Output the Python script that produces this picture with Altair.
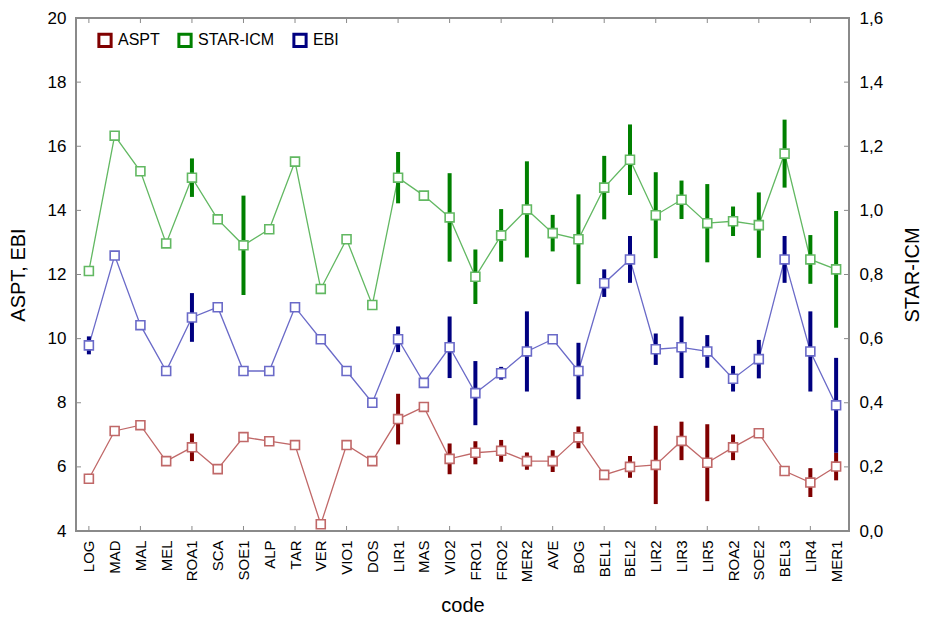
import altair as alt
import pandas as pd

codes = ["LOG", "MAD", "MAL", "MEL", "ROA1", "SCA", "SOE1", "ALP", "TAR", "VER",
         "VIO1", "DOS", "LIR1", "MAS", "VIO2", "FRO1", "FRO2", "MER2", "AVE", "BOG",
         "BEL1", "BEL2", "LIR2", "LIR3", "LIR5", "ROA2", "SOE2", "BEL3", "LIR4", "MER1"]

aspt = [5.63, 7.12, 7.30, 6.18, 6.61, 5.93, 6.93, 6.80, 6.68, 4.21,
        6.68, 6.18, 7.49, 7.87, 6.25, 6.44, 6.50, 6.18, 6.18, 6.92,
        5.75, 6.00, 6.06, 6.81, 6.13, 6.61, 7.05, 5.87, 5.51, 6.01]
aspt_err = [0.15, 0, 0, 0, 0.43, 0, 0, 0, 0, 0,
            0, 0, 0.79, 0, 0.48, 0.36, 0.34, 0.27, 0.34, 0.34,
            0, 0.34, 1.22, 0.60, 1.20, 0.40, 0, 0, 0.45, 0.43]

star = [0.811, 1.233, 1.122, 0.897, 1.102, 0.972, 0.891, 0.941, 1.152, 0.755,
        0.910, 0.705, 1.102, 1.046, 0.978, 0.793, 0.922, 1.003, 0.929, 0.910,
        1.071, 1.158, 0.985, 1.033, 0.960, 0.966, 0.954, 1.177, 0.847, 0.816]
star_err = [0, 0, 0, 0, 0.060, 0, 0.155, 0, 0, 0,
            0, 0, 0.080, 0, 0.138, 0.085, 0.082, 0.150, 0.057, 0.140,
            0.099, 0.110, 0.134, 0.060, 0.122, 0.046, 0.102, 0.106, 0.076, 0.182]

ebi = [9.79, 12.59, 10.42, 8.99, 10.66, 10.98, 8.99, 8.99, 10.98, 9.98,
       8.99, 8.00, 9.98, 8.62, 9.73, 8.30, 8.92, 9.60, 9.98, 8.99,
       11.73, 12.47, 9.67, 9.73, 9.60, 8.75, 9.36, 12.47, 9.60, 7.92]
ebi_err = [0.28, 0, 0, 0, 0.76, 0, 0, 0, 0, 0,
           0, 0, 0.40, 0, 0.96, 1.00, 0.20, 1.25, 0, 0.88,
           0.43, 0.73, 0.49, 0.96, 0.51, 0.40, 0.60, 0.73, 1.25, 1.48]

series_names = ["ASPT", "STAR-ICM", "EBI"]
left_ticks = [4, 6, 8, 10, 12, 14, 16, 18, 20]
right_ticks = [0.0, 0.2, 0.4, 0.6, 0.8, 1.0, 1.2, 1.4, 1.6]
x_tick_codes = codes[::2]

dark_colors = ["#800000", "#008000", "#000080"]
# line / marker colours, in the order ASPT, EBI, STAR-ICM
line_domain = ["ASPT", "EBI", "STAR-ICM"]
light_colors = ["#c06868", "#6a6ac8", "#62b862"]
frame_col = "#8a8a8a"

W, H = 773, 513


def long_df(name, vals, errs):
    return pd.DataFrame({"idx": range(len(codes)), "code": codes, "series": name,
                         "line": name, "value": vals, "err": errs})


df_left = pd.concat([long_df("ASPT", aspt, aspt_err), long_df("EBI", ebi, ebi_err)],
                    ignore_index=True)
df_right = long_df("STAR-ICM", star, star_err)

xscale = alt.Scale(domain=codes, type="point", padding=0.5)
xaxis = alt.Axis(title="code", labelAngle=270, labelFontSize=15, labelPadding=9,
                 ticks=False, domain=False, titleFontSize=20, titlePadding=14)
X = alt.X("code:N", scale=xscale, axis=xaxis, sort=codes)

yl_scale = alt.Scale(domain=[4, 20], nice=False, zero=False)
yl_axis = alt.Axis(title="ASPT, EBI", orient="left", values=left_ticks, ticks=False,
                   domain=False, labelFontSize=17, labelPadding=10, titleFontSize=20,
                   titlePadding=19)
yr_scale = alt.Scale(domain=[0, 1.6], nice=False, zero=False)
yr_axis = alt.Axis(title="STAR-ICM", orient="right", values=right_ticks, ticks=False,
                   domain=False, labelFontSize=17, labelPadding=10, titleFontSize=20,
                   titlePadding=40, titleAngle=270,
                   labelExpr="replace(format(datum.value, '.1f'), '.', ',')")

legend = alt.Legend(title=None, orient="none", legendX=21, legendY=14,
                    direction="horizontal", symbolType="square",
                    symbolSize=150, symbolStrokeWidth=3, symbolFillColor="white",
                    labelFontSize=16, columnPadding=12, labelOffset=5)
color_scale = alt.Scale(domain=series_names, range=dark_colors)
stroke_enc = alt.Stroke("line:N", scale=alt.Scale(domain=line_domain, range=light_colors),
                        legend=None)


def series_layers(df, yscale, yaxis):
    base = alt.Chart(df)
    line = base.mark_line(strokeWidth=1.3).encode(
        x=X, y=alt.Y("value:Q", scale=yscale, axis=yaxis), stroke=stroke_enc,
        detail="line:N", order="idx:Q")
    bars = base.transform_filter("datum.err > 0").transform_calculate(
        lo="datum.value - datum.err", hi="datum.value + datum.err"
    ).mark_rule(strokeWidth=4).encode(
        x=X, y=alt.Y("lo:Q", scale=yscale, axis=yaxis), y2="hi:Q",
        color=alt.Color("series:N", scale=color_scale, legend=legend))
    pts = base.mark_point(shape="square", size=80, fill="white", filled=False,
                          fillOpacity=1, opacity=1, strokeWidth=1.6).encode(
        x=X, y=alt.Y("value:Q", scale=yscale, axis=yaxis), stroke=stroke_enc)
    return [line, bars, pts]


xt = alt.Chart(pd.DataFrame({"code": x_tick_codes}))
xtick_bottom = xt.mark_rule(color=frame_col, strokeWidth=1).encode(
    x=X, y=alt.value(H - 5), y2=alt.value(H))
xtick_top = xt.mark_rule(color=frame_col, strokeWidth=1).encode(
    x=X, y=alt.value(0), y2=alt.value(5))
ltick = alt.Chart(pd.DataFrame({"value": left_ticks})).mark_rule(
    color=frame_col, strokeWidth=1).encode(
    y=alt.Y("value:Q", scale=yl_scale, axis=yl_axis), x=alt.value(0), x2=alt.value(5))
rtick = alt.Chart(pd.DataFrame({"value": right_ticks})).mark_rule(
    color=frame_col, strokeWidth=1).encode(
    y=alt.Y("value:Q", scale=yr_scale, axis=yr_axis), x=alt.value(W - 5), x2=alt.value(W))

left = alt.layer(xtick_bottom, xtick_top, ltick, *series_layers(df_left, yl_scale, yl_axis))
right = alt.layer(rtick, *series_layers(df_right, yr_scale, yr_axis))

chart = alt.layer(left, right).resolve_scale(y="independent").properties(
    width=W, height=H,
    padding={"left": 76, "top": 18, "right": 76, "bottom": 89},
    autosize=alt.AutoSizeParams(type="none"),
    background="white",
).configure_view(stroke=frame_col, strokeWidth=2).configure_axis(
    labelFont="Liberation Sans", titleFont="Liberation Sans", labelColor="black",
    titleColor="black", titleFontWeight="normal", grid=False
).configure_legend(labelFont="Liberation Sans", labelColor="black")

chart.save("out.html", embed_options={"renderer": "svg", "actions": False})
